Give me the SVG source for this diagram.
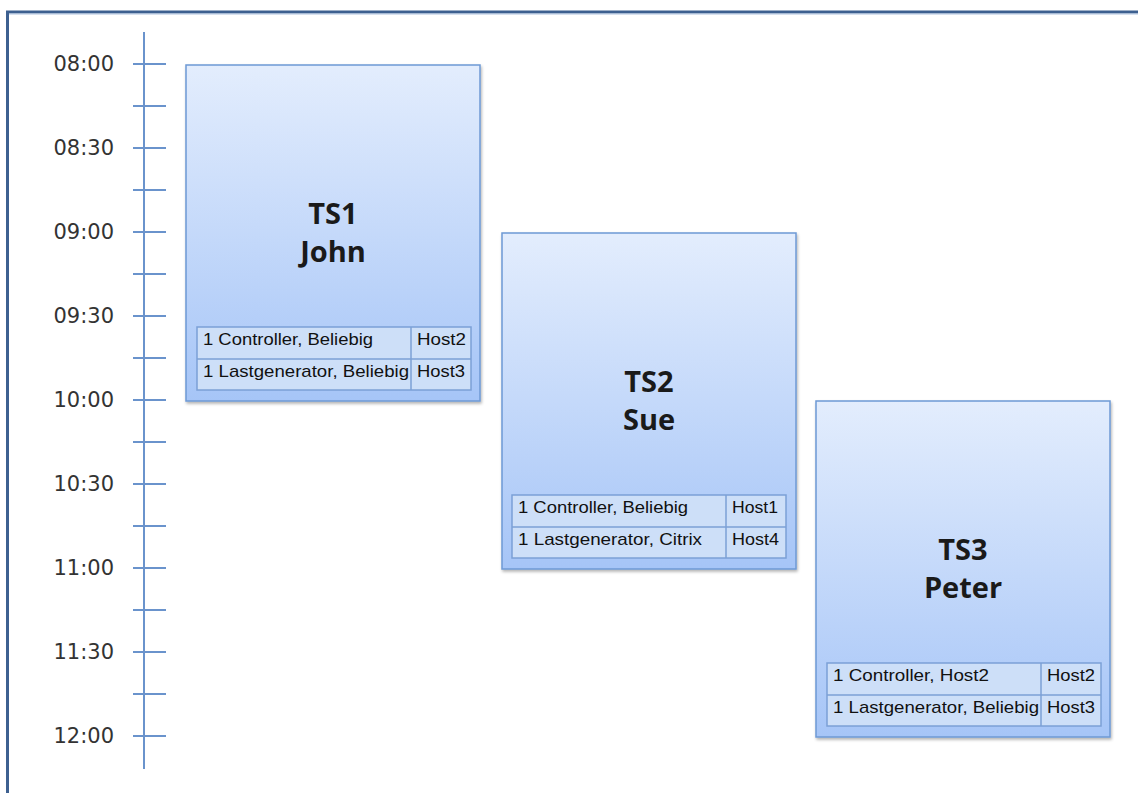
<svg xmlns="http://www.w3.org/2000/svg" width="1138" height="793" viewBox="0 0 1138 793">
<defs>
<linearGradient id="g" x1="0" y1="0" x2="0" y2="1">
<stop offset="0" stop-color="#e3edfd"/>
<stop offset="1" stop-color="#a6c5f7"/>
</linearGradient>
<filter id="sh" x="-5%" y="-5%" width="115%" height="115%">
<feGaussianBlur in="SourceAlpha" stdDeviation="1.5"/>
<feOffset dx="1" dy="2"/>
<feComponentTransfer><feFuncA type="linear" slope="0.3"/></feComponentTransfer>
<feMerge><feMergeNode/><feMergeNode in="SourceGraphic"/></feMerge>
</filter>
<g id="tbl">
<rect x="0" y="0" width="274" height="63" fill="#cddff8" stroke="#7ba0d6" stroke-width="1.5"/>
<line x1="0" y1="32" x2="274" y2="32" stroke="#7ba0d6" stroke-width="1.5"/>
<line x1="214" y1="0" x2="214" y2="63" stroke="#7ba0d6" stroke-width="1.5"/>
</g>
</defs>
<style>
.lbl{font-family:"DejaVu Sans","Liberation Sans",sans-serif;font-size:21px;fill:#333;text-anchor:end}
.ttl{font-family:"Open Sans","Liberation Sans",sans-serif;font-weight:bold;font-size:29px;fill:#1a1a1a;text-anchor:middle}
.cell{font-family:"Liberation Sans","DejaVu Sans",sans-serif;font-size:17px;fill:#111}
.box{fill:url(#g);stroke:#6e99d5;stroke-width:1.5}
.ax{stroke:#6a93cc;stroke-width:2}
</style>
<rect width="1138" height="793" fill="#ffffff"/>
<line x1="7.5" y1="12" x2="7.5" y2="793" stroke="#3d6090" stroke-width="3"/>
<line x1="6" y1="12" x2="1138" y2="12" stroke="#3d6090" stroke-width="3"/>
<line x1="9" y1="14" x2="1138" y2="14" stroke="#b0c4e0" stroke-width="1"/>
<g id="axis">
<line class="ax" x1="144" y1="32" x2="144" y2="769"/>
<g class="ax">
<line x1="133" y1="64" x2="166" y2="64"/>
<line x1="133" y1="106" x2="166" y2="106"/>
<line x1="133" y1="148" x2="166" y2="148"/>
<line x1="133" y1="190" x2="166" y2="190"/>
<line x1="133" y1="232" x2="166" y2="232"/>
<line x1="133" y1="274" x2="166" y2="274"/>
<line x1="133" y1="316" x2="166" y2="316"/>
<line x1="133" y1="358" x2="166" y2="358"/>
<line x1="133" y1="400" x2="166" y2="400"/>
<line x1="133" y1="442" x2="166" y2="442"/>
<line x1="133" y1="484" x2="166" y2="484"/>
<line x1="133" y1="526" x2="166" y2="526"/>
<line x1="133" y1="568" x2="166" y2="568"/>
<line x1="133" y1="610" x2="166" y2="610"/>
<line x1="133" y1="652" x2="166" y2="652"/>
<line x1="133" y1="694" x2="166" y2="694"/>
<line x1="133" y1="736" x2="166" y2="736"/>
</g>
<text class="lbl" x="114" y="71">08:00</text>
<text class="lbl" x="114" y="155">08:30</text>
<text class="lbl" x="114" y="239">09:00</text>
<text class="lbl" x="114" y="323">09:30</text>
<text class="lbl" x="114" y="407">10:00</text>
<text class="lbl" x="114" y="491">10:30</text>
<text class="lbl" x="114" y="575">11:00</text>
<text class="lbl" x="114" y="659">11:30</text>
<text class="lbl" x="114" y="743">12:00</text>
</g>
<g id="ts1">
<rect class="box" x="186" y="65" width="294" height="336" filter="url(#sh)"/>
<text class="ttl" x="333" y="224">TS1</text>
<text class="ttl" x="333" y="262">John</text>
<use href="#tbl" x="197" y="327"/>
<text class="cell" x="203" y="345" textLength="170" lengthAdjust="spacingAndGlyphs">1 Controller, Beliebig</text>
<text class="cell" x="417" y="345" textLength="49" lengthAdjust="spacingAndGlyphs">Host2</text>
<text class="cell" x="203" y="377" textLength="206" lengthAdjust="spacingAndGlyphs">1 Lastgenerator, Beliebig</text>
<text class="cell" x="417" y="377" textLength="48" lengthAdjust="spacingAndGlyphs">Host3</text>
</g>
<g id="ts2">
<rect class="box" x="502" y="233" width="294" height="336" filter="url(#sh)"/>
<text class="ttl" x="649" y="392">TS2</text>
<text class="ttl" x="649" y="430">Sue</text>
<use href="#tbl" x="512" y="495"/>
<text class="cell" x="518" y="513" textLength="170" lengthAdjust="spacingAndGlyphs">1 Controller, Beliebig</text>
<text class="cell" x="732" y="513" textLength="46" lengthAdjust="spacingAndGlyphs">Host1</text>
<text class="cell" x="518" y="545" textLength="184" lengthAdjust="spacingAndGlyphs">1 Lastgenerator, Citrix</text>
<text class="cell" x="732" y="545" textLength="47" lengthAdjust="spacingAndGlyphs">Host4</text>
</g>
<g id="ts3">
<rect class="box" x="816" y="401" width="294" height="336" filter="url(#sh)"/>
<text class="ttl" x="963" y="560">TS3</text>
<text class="ttl" x="963" y="598">Peter</text>
<use href="#tbl" x="827" y="663"/>
<text class="cell" x="833" y="681" textLength="156" lengthAdjust="spacingAndGlyphs">1 Controller, Host2</text>
<text class="cell" x="1047" y="681" textLength="48" lengthAdjust="spacingAndGlyphs">Host2</text>
<text class="cell" x="833" y="713" textLength="206" lengthAdjust="spacingAndGlyphs">1 Lastgenerator, Beliebig</text>
<text class="cell" x="1047" y="713" textLength="48" lengthAdjust="spacingAndGlyphs">Host3</text>
</g>
</svg>
